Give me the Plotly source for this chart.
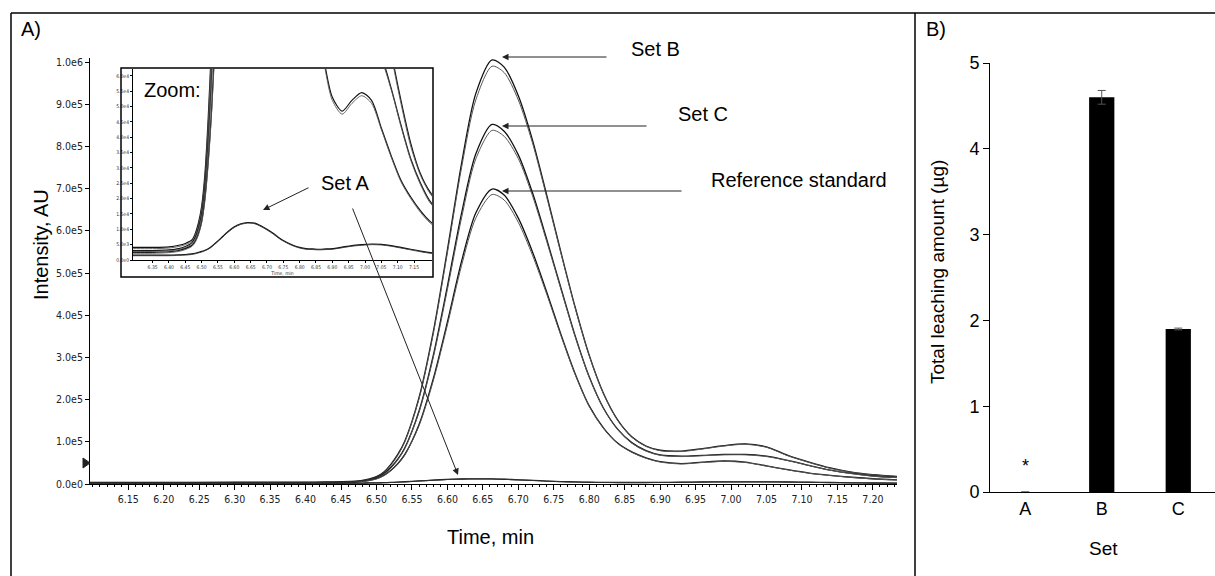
import plotly.graph_objects as go

W, H = 1215, 576

# ---------------- data: panel A chromatograms (AU) ----------------
time_min = [6.096, 6.20, 6.30, 6.35, 6.40, 6.43, 6.45, 6.47, 6.48, 6.49,
            6.50, 6.51, 6.52, 6.53, 6.54, 6.56, 6.58, 6.60, 6.62, 6.64,
            6.663, 6.68, 6.70, 6.72, 6.74, 6.76, 6.78, 6.80, 6.82, 6.84,
            6.86, 6.88, 6.90, 6.93, 6.96, 6.99, 7.02, 7.05, 7.08, 7.11,
            7.14, 7.17, 7.20, 7.234]

set_b_1 = [4.0e3, 4.0e3, 4.1e3, 4.1e3, 4.3e3, 4.8e3, 5.4e3, 6.5e3, 8.5e3, 1.2e4,
           1.75e4, 2.8e4, 4.6e4, 7.0e4, 1.02e5, 2.05e5, 3.6e5, 5.55e5, 7.6e5, 9.25e5,
           1.005e6, 9.88e5, 9.2e5, 8.15e5, 6.85e5, 5.5e5, 4.2e5, 3.05e5, 2.15e5, 1.52e5,
           1.12e5, 9.0e4, 8.0e4, 7.8e4, 8.4e4, 9.1e4, 9.5e4, 8.8e4, 6.8e4, 5.2e4,
           3.8e4, 2.8e4, 2.2e4, 1.8e4]
set_b_2 = [3.6e3, 3.6e3, 3.7e3, 3.7e3, 3.9e3, 4.4e3, 5.0e3, 6.0e3, 7.9e3, 1.12e4,
           1.65e4, 2.65e4, 4.4e4, 6.8e4, 1.0e5, 2.02e5, 3.55e5, 5.48e5, 7.5e5, 9.1e5,
           9.9e5, 9.75e5, 9.1e5, 8.08e5, 6.8e5, 5.47e5, 4.18e5, 3.04e5, 2.14e5, 1.51e5,
           1.11e5, 8.9e4, 7.9e4, 7.7e4, 8.3e4, 9.0e4, 9.4e4, 8.7e4, 6.7e4, 5.1e4,
           3.7e4, 2.75e4, 2.15e4, 1.75e4]
set_c_1 = [3.0e3, 3.0e3, 3.1e3, 3.1e3, 3.3e3, 3.7e3, 4.4e3, 5.6e3, 7.3e3, 1.03e4,
           1.5e4, 2.4e4, 3.9e4, 5.9e4, 8.6e4, 1.73e5, 3.04e5, 4.69e5, 6.42e5, 7.82e5,
           8.52e5, 8.36e5, 7.8e5, 6.9e5, 5.8e5, 4.65e5, 3.52e5, 2.54e5, 1.8e5, 1.3e5,
           9.8e4, 7.9e4, 6.9e4, 6.6e4, 6.8e4, 7.0e4, 7.0e4, 6.6e4, 5.6e4, 4.4e4,
           3.3e4, 2.5e4, 1.9e4, 1.55e4]
set_c_2 = [2.7e3, 2.7e3, 2.8e3, 2.8e3, 3.0e3, 3.4e3, 4.0e3, 5.2e3, 6.8e3, 9.6e3,
           1.4e4, 2.25e4, 3.7e4, 5.7e4, 8.4e4, 1.7e5, 2.99e5, 4.61e5, 6.31e5, 7.7e5,
           8.38e5, 8.24e5, 7.71e5, 6.83e5, 5.75e5, 4.62e5, 3.5e5, 2.53e5, 1.79e5, 1.29e5,
           9.7e4, 7.8e4, 6.8e4, 6.5e4, 6.7e4, 6.9e4, 6.9e4, 6.5e4, 5.55e4, 4.35e4,
           3.25e4, 2.45e4, 1.85e4, 1.5e4]
ref_std_1 = [2.4e3, 2.4e3, 2.5e3, 2.5e3, 2.7e3, 3.1e3, 3.7e3, 4.7e3, 6.1e3, 8.6e3,
             1.25e4, 2.0e4, 3.2e4, 4.8e4, 7.0e4, 1.41e5, 2.49e5, 3.84e5, 5.28e5, 6.42e5,
             6.99e5, 6.85e5, 6.3e5, 5.5e5, 4.55e5, 3.55e5, 2.62e5, 1.85e5, 1.33e5, 9.7e4,
             7.6e4, 6.2e4, 5.3e4, 4.85e4, 5.2e4, 5.45e4, 5.2e4, 4.3e4, 3.4e4, 2.6e4,
             2.05e4, 1.6e4, 1.25e4, 1.0e4]
ref_std_2 = [2.1e3, 2.1e3, 2.2e3, 2.2e3, 2.4e3, 2.8e3, 3.4e3, 4.4e3, 5.7e3, 8.1e3,
             1.2e4, 1.93e4, 3.1e4, 4.7e4, 6.85e4, 1.38e5, 2.44e5, 3.77e5, 5.18e5, 6.3e5,
             6.86e5, 6.73e5, 6.2e5, 5.42e5, 4.5e5, 3.52e5, 2.6e5, 1.84e5, 1.32e5, 9.6e4,
             7.5e4, 6.1e4, 5.2e4, 4.75e4, 5.1e4, 5.35e4, 5.1e4, 4.25e4, 3.35e4, 2.55e4,
             2.0e4, 1.55e4, 1.2e4, 0.95e4]
set_a_1 = [1.5e3, 1.5e3, 1.6e3, 1.6e3, 1.6e3, 1.7e3, 1.8e3, 2.0e3, 2.2e3, 2.5e3,
           2.8e3, 3.2e3, 3.7e3, 4.4e3, 5.3e3, 7.2e3, 9.2e3, 1.08e4, 1.18e4, 1.22e4,
           1.20e4, 1.12e4, 1.0e4, 8.6e3, 7.0e3, 5.8e3, 4.8e3, 4.1e3, 3.7e3, 3.6e3,
           3.5e3, 3.6e3, 3.7e3, 4.2e3, 4.7e3, 5.0e3, 5.2e3, 5.1e3, 4.7e3, 4.1e3,
           3.5e3, 2.9e3, 2.4e3, 2.1e3]
set_a_2 = [1.3e3, 1.3e3, 1.4e3, 1.4e3, 1.4e3, 1.5e3, 1.6e3, 1.8e3, 2.0e3, 2.3e3,
           2.6e3, 3.0e3, 3.5e3, 4.2e3, 5.1e3, 7.0e3, 9.0e3, 1.06e4, 1.16e4, 1.2e4,
           1.18e4, 1.1e4, 9.8e3, 8.4e3, 6.8e3, 5.6e3, 4.6e3, 3.9e3, 3.5e3, 3.4e3,
           3.3e3, 3.4e3, 3.5e3, 4.0e3, 4.5e3, 4.8e3, 5.0e3, 4.9e3, 4.5e3, 3.9e3,
           3.3e3, 2.7e3, 2.2e3, 1.9e3]

main_x_ticks = [6.15, 6.20, 6.25, 6.30, 6.35, 6.40, 6.45, 6.50, 6.55, 6.60, 6.65, 6.70,
                6.75, 6.80, 6.85, 6.90, 6.95, 7.00, 7.05, 7.10, 7.15, 7.20]
main_x_labels = ["6.15", "6.20", "6.25", "6.30", "6.35", "6.40", "6.45", "6.50", "6.55",
                 "6.60", "6.65", "6.70", "6.75", "6.80", "6.85", "6.90", "6.95", "7.00",
                 "7.05", "7.10", "7.15", "7.20"]
main_y_ticks = [0, 1e5, 2e5, 3e5, 4e5, 5e5, 6e5, 7e5, 8e5, 9e5, 1e6]
main_y_labels = ["0.0e0", "1.0e5", "2.0e5", "3.0e5", "4.0e5", "5.0e5", "6.0e5", "7.0e5",
                 "8.0e5", "9.0e5", "1.0e6"]

inset_x_ticks = [6.35, 6.40, 6.45, 6.50, 6.55, 6.60, 6.65, 6.70, 6.75, 6.80, 6.85, 6.90,
                 6.95, 7.00, 7.05, 7.10, 7.15]
inset_x_labels = ["6.35", "6.40", "6.45", "6.50", "6.55", "6.60", "6.65", "6.70", "6.75",
                  "6.80", "6.85", "6.90", "6.95", "7.00", "7.05", "7.10", "7.15"]
inset_y_ticks = [0, 5e3, 1e4, 1.5e4, 2e4, 2.5e4, 3e4, 3.5e4, 4e4, 4.5e4, 5e4, 5.5e4, 6e4]
inset_y_labels = ["0.0e0", "5.0e3", "1.0e4", "1.5e4", "2.0e4", "2.5e4", "3.0e4", "3.5e4",
                  "4.0e4", "4.5e4", "5.0e4", "5.5e4", "6.0e4"]

# ---------------- data: panel B ----------------
set_names = ["A", "B", "C"]
leaching_ug = [0, 4.60, 1.90]
leaching_err = [0, 0.08, 0.01]
bar_y_ticks = [0, 1, 2, 3, 4, 5]


def PX(x):
    return x / W


def PY(y):
    return 1 - y / H


ARIAL = "Arial, Liberation Sans, Helvetica, sans-serif"
NARROW = "Liberation Sans Narrow, Arial Narrow, DejaVu Sans Condensed, Liberation Sans, sans-serif"

fig = go.Figure()

curves = [
    (set_b_1, "#111111", 1.3), (set_b_2, "#555555", 1.0),
    (set_c_1, "#111111", 1.3), (set_c_2, "#555555", 1.0),
    (ref_std_1, "#111111", 1.3), (ref_std_2, "#555555", 1.0),
    (set_a_1, "#111111", 1.3), (set_a_2, "#333333", 1.0),
]
for vals, col, lw in curves:
    fig.add_trace(go.Scatter(x=time_min, y=vals, mode="lines", xaxis="x", yaxis="y",
                             line=dict(color=col, width=lw, shape="spline", smoothing=0.8),
                             showlegend=False, hoverinfo="skip"))
for vals, col, lw in curves:
    fig.add_trace(go.Scatter(x=time_min, y=vals, mode="lines", xaxis="x2", yaxis="y2",
                             line=dict(color=col, width=lw * 0.9, shape="spline", smoothing=0.8),
                             showlegend=False, hoverinfo="skip"))

fig.add_trace(go.Bar(x=set_names, y=leaching_ug, xaxis="x3", yaxis="y3", width=0.33,
                     marker=dict(color="black", line=dict(width=0)),
                     error_y=dict(type="data", array=leaching_err, color="#555555",
                                  thickness=1, width=4),
                     showlegend=False, hoverinfo="skip"))

axis_common = dict(showline=True, linecolor="black", linewidth=1, showgrid=False,
                   zeroline=False, ticks="outside", tickcolor="black")

fig.update_layout(
    width=W, height=H, margin=dict(l=0, r=0, t=0, b=0),
    template="none", paper_bgcolor="white", plot_bgcolor="rgba(0,0,0,0)",
    showlegend=False,
    xaxis=dict(domain=[PX(90), PX(897)], range=[6.096, 7.234], anchor="y",
               tickvals=main_x_ticks, ticktext=main_x_labels, ticklen=5,
               tickfont=dict(family=NARROW, size=10.5, color="#222"),
               minor=dict(tick0=6.10, dtick=0.01, ticks="outside", ticklen=2,
                          tickcolor="black"),
               **axis_common),
    yaxis=dict(domain=[PY(484), PY(58)], range=[0, 1.0095e6], anchor="x",
               tickvals=main_y_ticks, ticktext=main_y_labels, ticklen=4,
               tickfont=dict(family=NARROW, size=10.5, color="#222"),
               **axis_common),
    xaxis2=dict(domain=[PX(133), PX(432)], range=[6.29, 7.205], anchor="y2",
                tickvals=inset_x_ticks, ticktext=inset_x_labels, ticklen=2,
                tickfont=dict(family=NARROW, size=5, color="#333"),
                title=dict(text="Time, min", font=dict(family=NARROW, size=5, color="#333"),
                           standoff=1),
                **axis_common),
    yaxis2=dict(domain=[PY(260), PY(69)], range=[0, 6.22e4], anchor="x2",
                tickvals=inset_y_ticks, ticktext=inset_y_labels, ticklen=2,
                tickfont=dict(family=NARROW, size=5, color="#333"),
                **axis_common),
    xaxis3=dict(domain=[PX(990), 1.0], range=[-0.46, 2.48], anchor="y3",
                type="category", showline=True, linecolor="black", linewidth=1,
                showgrid=False, zeroline=False, ticks="",
                tickfont=dict(family=ARIAL, size=18, color="black")),
    yaxis3=dict(domain=[PY(492), PY(63)], range=[0, 5], anchor="x3",
                tickvals=bar_y_ticks, ticklen=6,
                tickfont=dict(family=ARIAL, size=18, color="black"),
                **axis_common),
)

shapes = [
    dict(type="line", xref="paper", yref="paper", x0=PX(11), y0=PY(13), x1=1, y1=PY(13),
         line=dict(color="black", width=1.5)),
    dict(type="line", xref="paper", yref="paper", x0=PX(11), y0=PY(13), x1=PX(11), y1=0,
         line=dict(color="black", width=1.5)),
    dict(type="line", xref="paper", yref="paper", x0=PX(915), y0=PY(13), x1=PX(915), y1=0,
         line=dict(color="black", width=1.5)),
    dict(type="rect", xref="paper", yref="paper", x0=PX(121), y0=PY(277), x1=PX(433),
         y1=PY(68), line=dict(color="black", width=1.5)),
    dict(type="path", xref="paper", yref="paper",
         path=f"M {PX(83)},{PY(458)} L {PX(90)},{PY(463)} L {PX(83)},{PY(468)} Z",
         fillcolor="#222", line=dict(color="#222", width=1)),
]
fig.update_layout(shapes=shapes)


def label(text, x, y, size=20, xanchor="left", angle=0):
    return dict(text=text, x=PX(x), y=PY(y), xref="paper", yref="paper", showarrow=False,
                xanchor=xanchor, yanchor="middle", textangle=angle,
                font=dict(family=ARIAL, size=size, color="black"))


def arrow(hx, hy, tx, ty, color="#222"):
    return dict(text="", x=PX(hx), y=PY(hy), xref="paper", yref="paper", showarrow=True,
                ax=tx - hx, ay=ty - hy, axref="pixel", ayref="pixel",
                arrowhead=2, arrowsize=1.3, arrowwidth=1, arrowcolor=color,
                standoff=0, startstandoff=0)


annotations = [
    label("A)", 19, 29),
    label("B)", 924, 29),
    label("Intensity, AU", 41, 245, xanchor="center", angle=-90),
    label("Time, min", 490, 537, xanchor="center"),
    label("Zoom:", 142, 90),
    label("Set A", 319, 183),
    label("Set B", 629, 49),
    label("Set C", 676, 114),
    label("Reference standard", 709, 180),
    label("Set", 1103, 548, size=19, xanchor="center"),
    label("Total leaching amount (µg)", 937, 272, size=19, xanchor="center", angle=-90),
    dict(text="*", x=set_names[0], y=0.30, xref="x3", yref="y3", showarrow=False,
         font=dict(family=ARIAL, size=18, color="black")),
    arrow(502, 57, 608, 57),
    arrow(502, 126, 648, 126),
    arrow(502, 191, 683, 191),
    arrow(263, 210, 310, 187),
    arrow(458, 475, 352, 207),
]
fig.update_layout(annotations=annotations)

fig.write_html("out.html", config={"displayModeBar": False},
               post_script="document.body.style.margin='0';document.body.style.overflow='hidden';")
